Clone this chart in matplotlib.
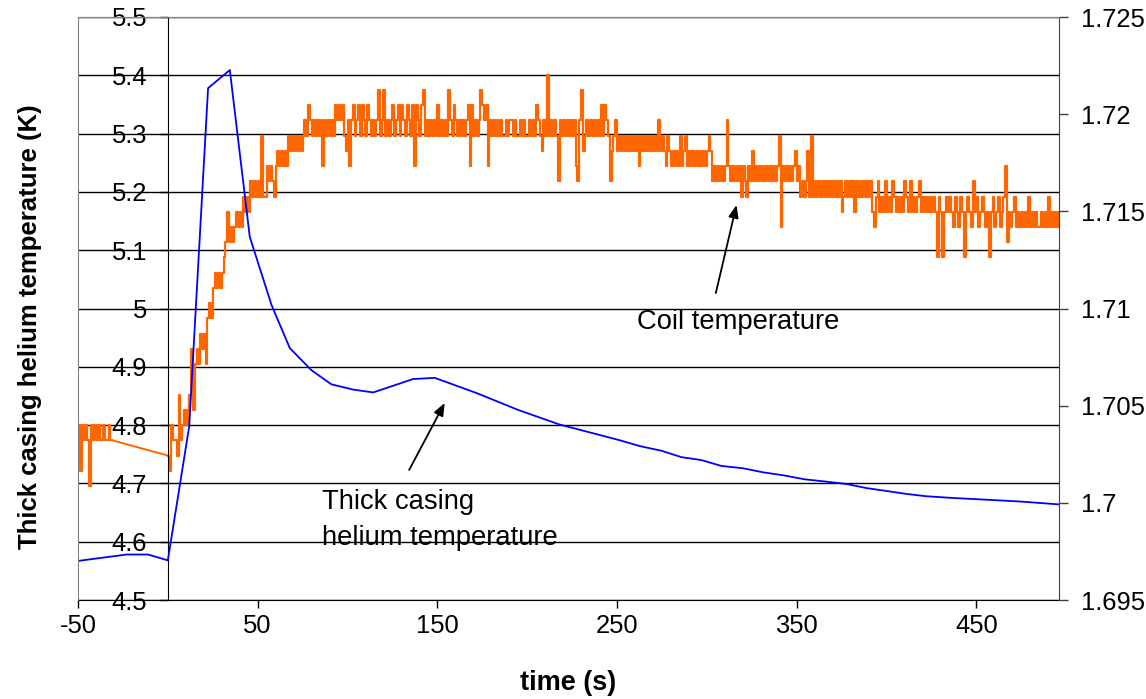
import numpy as np
import matplotlib
matplotlib.use("Agg")
import matplotlib.pyplot as plt
from matplotlib.ticker import FormatStrFormatter

plt.rcParams['font.family'] = ['Liberation Sans', 'DejaVu Sans']
plt.rcParams['axes.unicode_minus'] = False

# thick casing helium temperature (left axis, K)
casing_t = [-50, -23, -11, 0, 11.9, 22.4, 34.5, 45.6, 57.7, 67.9, 80, 91, 103,
            114.3, 136.5, 148.6, 171.8, 195, 218, 240.4, 251.5, 262.7, 274.7,
            285.9, 297, 308, 320, 331.3, 342.4, 354.5, 366.5, 377.7, 388.8,
            400, 411, 422, 437, 455.6, 474, 496]
casing_T = [4.567, 4.578, 4.578, 4.568, 4.798, 5.378, 5.409, 5.123, 5.006,
            4.932, 4.894, 4.870, 4.861, 4.856, 4.879, 4.881, 4.855, 4.826,
            4.801, 4.783, 4.774, 4.764, 4.756, 4.745, 4.740, 4.730, 4.726,
            4.719, 4.714, 4.707, 4.703, 4.699, 4.692, 4.687, 4.682, 4.678,
            4.675, 4.672, 4.669, 4.664]

# coil temperature (right axis): the sensor is quantised, values are written
# as level numbers (base 36, one char per second)
coil_level0 = 1.700866
coil_step = 0.000784
coil_pre_start = -50
coil_pre = "41434304343433433433"
coil_main_start = 0
coil_main = [
    "2143", "32", "634", "545", "695898", "a9a8bcb", "dedede", "fgighgh",
    "ihihjiji", "kjkjkjnj", "jlklkjl", "mlmlml", "nmnmnmnm",
    "nonpononon", "olonononpo", "popnmolopn", "opnponpono", "noqnoqnono",
    "pnopnponpo", "nplponpqno", "nononpnono", "nqonponono", "noplpnonoq",
    "poplononon", "onnonoonon", "nononnonon", "ponmonrnon", "onkononono",
    "nolkoqmnon", "onononpnpo", "nkmnomnmnm", "nmnmnmnlnm", "nmnmnmnmom",
    "nmlnmlmlml", "nlmnlmlmlm", "lmlmlmnmkl", "klklklolkl", "klkljlkjlk",
    "mklklklklk", "lklklnhlkl", "klklmkljkj", "kmjnjkjkjk", "jkjkjkjkjk",
    "ijkjkjkikj", "kjkjkjkihj", "kijikijikj", "ijijikjiki", "jijkijijij",
    "ijifjifiji", "jihjihjifi", "jihkijhiji", "hifijhijhi", "jlgihijhih",
    "ihihjhihih", "hihihjhihi", "hi",
]

left_ticks = [4.5, 4.6, 4.7, 4.8, 4.9, 5.0, 5.1, 5.2, 5.3, 5.4, 5.5]
right_ticks = [1.695, 1.7, 1.705, 1.71, 1.715, 1.72, 1.725]
x_ticks = [-50, 50, 150, 250, 350, 450]

main_str = "".join(coil_main)
pre_t = coil_pre_start + np.arange(len(coil_pre))
pre_T = coil_level0 + coil_step * np.array([int(c, 36) for c in coil_pre])
main_t = coil_main_start + np.arange(len(main_str))
main_T = coil_level0 + coil_step * np.array([int(c, 36) for c in main_str])

fig = plt.figure(figsize=(11.46, 6.99), dpi=100)
ax = fig.add_axes([78 / 1146, 1 - 600 / 699, 981 / 1146, 583 / 699])
ax2 = ax.twinx()

ax.set_xlim(-50, 496)
ax.set_ylim(4.5, 5.5)
ax2.set_ylim(1.695, 1.725)

ax.yaxis.grid(True, color='black', lw=1)
ax.set_axisbelow(True)

orange = '#FF6600'
ax.plot(pre_t, pre_T, color=orange, lw=1.6, drawstyle='steps-post',
        transform=ax2.transData, zorder=2)
ax.plot([pre_t[-1], main_t[0]], [pre_T[-1], main_T[0]], color=orange, lw=1.4,
        transform=ax2.transData, zorder=2)
ax.plot(main_t, main_T, color=orange, lw=1.6, drawstyle='steps-post',
        transform=ax2.transData, zorder=2)
ax.plot(casing_t, casing_T, color='#0000FF', lw=1.3, zorder=3)

ax.spines['left'].set_position(('data', 0))
ax.spines['left'].set_color('black')
ax.spines['right'].set_visible(False)
ax.spines['top'].set_color('#808080')
ax.spines['bottom'].set_color('black')
ax2.spines['left'].set_color('#808080')
ax2.spines['right'].set_color('#404040')
ax2.spines['top'].set_color('#808080')
ax2.spines['bottom'].set_visible(False)

ax.set_xticks(x_ticks)
ax.set_yticks(left_ticks)
ax2.set_yticks(right_ticks)
ax.yaxis.set_major_formatter(FormatStrFormatter('%g'))
ax2.yaxis.set_major_formatter(FormatStrFormatter('%g'))
ax.tick_params(axis='y', direction='out', length=6, width=1, pad=9,
               labelsize=18.4)
ax.tick_params(axis='x', direction='out', length=6, width=1, pad=4,
               labelsize=18.4)
ax2.tick_params(axis='y', direction='out', length=6.5, width=1, pad=9,
                labelsize=18.4, color='#404040')

arrow = dict(arrowstyle='-|>,head_length=0.75,head_width=0.3',
             color='black', lw=1.3, shrinkA=0, shrinkB=0)
ax.annotate('', xy=(316.5, 5.1775), xytext=(305, 5.0266),
            arrowprops=arrow, annotation_clip=False)
ax.annotate('', xy=(154.1, 4.838), xytext=(134.3, 4.723),
            arrowprops=arrow, annotation_clip=False)
ax.text(261, 4.977, 'Coil temperature', fontsize=19.7, ha='left', va='center')
ax.text(85.7, 4.668, 'Thick casing', fontsize=19.7, ha='left', va='center')
ax.text(85.7, 4.606, 'helium temperature', fontsize=19.7, ha='left',
        va='center')

fig.text(568 / 1146, 1 - 683 / 699, 'time (s)', fontsize=19.5,
         weight='bold', ha='center', va='center')
fig.text(30 / 1146, 1 - 327 / 699, 'Thick casing helium temperature (K)',
         fontsize=18.5, weight='bold', rotation=90, ha='center', va='center')

fig.savefig('out.png', dpi=100)
